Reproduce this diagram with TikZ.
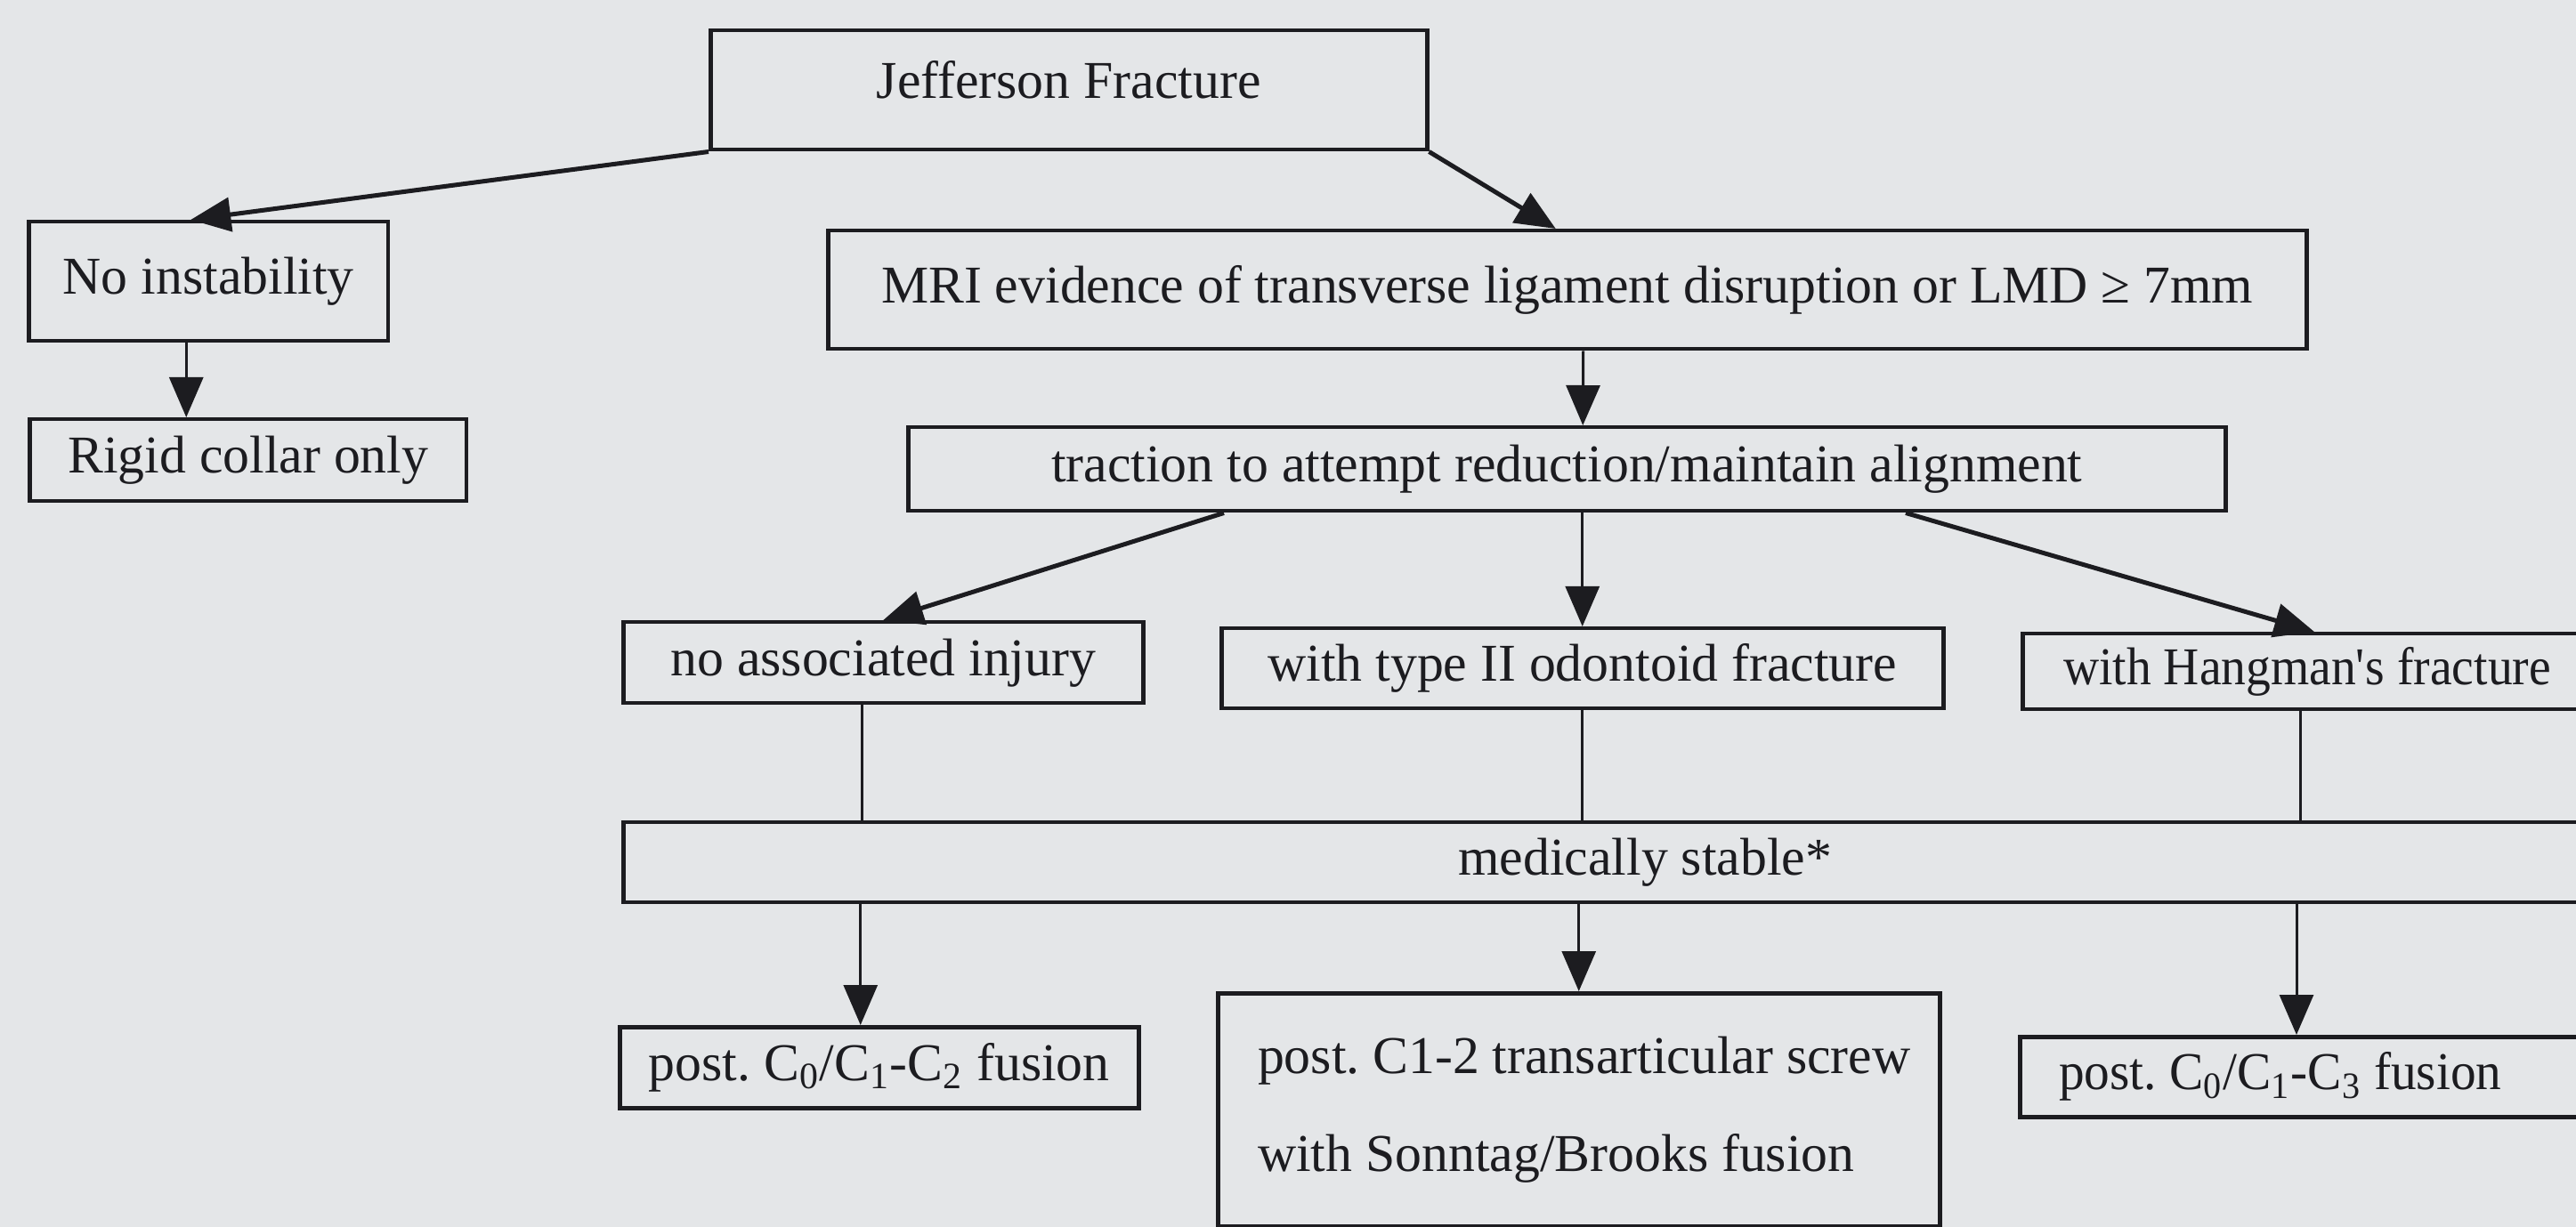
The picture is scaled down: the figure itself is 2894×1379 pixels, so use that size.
\documentclass[tikz,border=0pt]{standalone}
\usepackage{fontspec}
\setmainfont{Liberation Serif}
\newfontfamily\narrowfont[FakeStretch=0.93]{Liberation Serif}
\newfontfamily\narrowfontb[FakeStretch=0.96]{Liberation Serif}
\usetikzlibrary{arrows.meta,calc}
\definecolor{bgc}{RGB}{228,230,232}
\definecolor{ink}{RGB}{28,28,32}
\begin{document}
\frenchspacing
\begin{tikzpicture}[x=0.1mm,y=-0.1mm,
  box/.style={draw=ink,line width=0.45mm,inner sep=0pt,text=ink,
    font=\fontsize{17pt}{20pt}\selectfont,anchor=north west},
  lbox/.style={box,align=flush left,inner xsep=4.5mm},
  arr/.style={draw=ink,line width=0.3mm,-{Triangle[length=4.5mm,width=3.8mm]}},
  darr/.style={arr,line width=0.5mm},
  link/.style={draw=ink,line width=0.3mm}]
\useasboundingbox (0,0) rectangle (2894,1379);
\fill[bgc] (0,0) rectangle (2894,1379);
\clip (0,0) rectangle (2894,1379);

% boxes
\node[box,minimum width=80.5mm,minimum height=13.4mm,text depth=2.4mm] (jf) at (796,32) {Jefferson Fracture};
\node[box,minimum width=40.4mm,minimum height=13.4mm] (ni) at (30,247) {No instability};
\node[box,minimum width=49.1mm,minimum height=9.2mm] (rc) at (31,469) {Rigid collar only};
\node[box,minimum width=166.1mm,minimum height=13.3mm,text depth=1.2mm] (mri) at (928,257)
  {MRI evidence of transverse ligament disruption or LMD ≥ 7mm};
\node[box,minimum width=148mm,minimum height=9.4mm] (tr) at (1018,478)
  {traction to attempt reduction/maintain alignment};
\node[box,minimum width=58.4mm,minimum height=9.1mm] (na) at (698,697) {no associated injury};
\node[box,minimum width=81.1mm,minimum height=9.0mm] (t2) at (1370,704) {with type II odontoid fracture};
\node[lbox,inner xsep=4.6mm,text width=70mm,minimum height=8.5mm,
  font=\narrowfont\fontsize{17pt}{20pt}\selectfont] (hm) at (2270,710) {with Hangman\textquotesingle s fracture};
\node[box,minimum width=229.6mm,minimum height=9.0mm] (ms) at (698,922) {medically stable*};
\node[box,minimum width=58.3mm,minimum height=9.1mm] (c2) at (694,1152)
  {post. C\textsubscript{0}/C\textsubscript{1}-C\textsubscript{2} fusion};
\node[box,align=left,minimum width=81.1mm,minimum height=26.2mm,
  font=\fontsize{17pt}{31.5pt}\selectfont] (c12) at (1366,1114)
  {\hspace*{1.2mm}post. C1-2 transarticular screw\\\hspace*{1.2mm}with Sonntag/Brooks fusion};
\node[lbox,inner xsep=4.4mm,text width=70mm,minimum height=9.0mm,
  font=\narrowfontb\fontsize{17pt}{20pt}\selectfont] (c3) at (2267,1163)
  {post. C\textsubscript{0}/C\textsubscript{1}-C\textsubscript{3} fusion};

% connectors
\draw[darr] (jf.south west) -- ([xshift=-2mm]ni.north);
\draw[darr] (jf.south east) -- ([xshift=-1.3mm]mri.north);
\draw[arr] ([xshift=-2.5mm]ni.south) -- ([xshift=-2.5mm]ni.south |- rc.north);
\draw[arr] ([xshift=1.8mm]mri.south) -- ([xshift=1.8mm]tr.north);
\draw[darr] ([xshift=35.7mm]tr.south west) -- (na.north);
\draw[arr] (tr.south -| t2.north) -- (t2.north);
\draw[darr] ([xshift=112.3mm]tr.south west) -- ([xshift=33mm]hm.north west);

\coordinate (a1) at ([xshift=-2.4mm]na.south);
\coordinate (a3) at ([xshift=31.4mm]hm.south west);
\draw[link] (a1) -- (a1 |- ms.north);
\draw[link] (t2.south) -- (t2.south |- ms.north);
\draw[link] (a3) -- (a3 |- ms.north);

\coordinate (b1) at ([xshift=-2.1mm]c2.north);
\coordinate (b3) at ([xshift=31.3mm]c3.north west);
\draw[arr] (ms.south -| b1) -- (b1);
\draw[arr] (ms.south -| c12.north) -- (c12.north);
\draw[arr] (ms.south -| b3) -- (b3);
\end{tikzpicture}
\end{document}
